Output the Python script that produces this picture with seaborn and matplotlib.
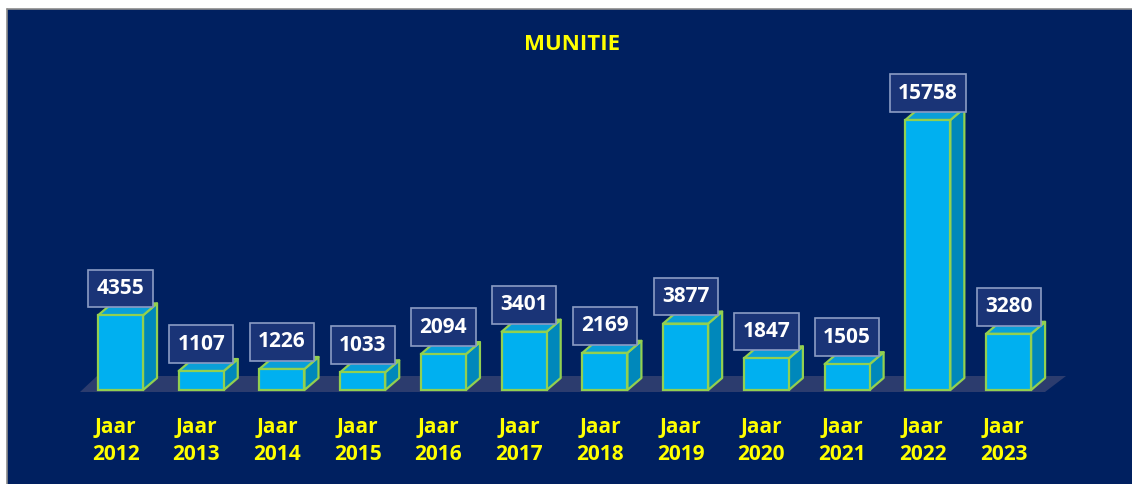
import matplotlib
matplotlib.use('Agg')
import matplotlib.pyplot as plt
import seaborn as sns
import pandas as pd
from matplotlib.patches import Polygon, Rectangle
from matplotlib.lines import Line2D

# ---- data ----
years = ['2012', '2013', '2014', '2015', '2016', '2017', '2018', '2019', '2020', '2021', '2022', '2023']
values = [4355, 1107, 1226, 1033, 2094, 3401, 2169, 3877, 1847, 1505, 15758, 3280]
prefix = 'Jaar'
title = 'MUNITIE'

# ---- style ----
NAVY = '#002060'
FRONT = '#00b0f0'
SIDE = '#0088bb'
TOP = '#0a9fd8'
EDGE = '#92d050'
YELLOW = '#ffff00'
FLOOR = '#2c3c6e'

sns.set_theme(style='white')
plt.rcParams['font.family'] = ['Open Sans', 'DejaVu Sans']

W, H = 1132, 484
fig = plt.figure(figsize=(W / 100, H / 100), dpi=100, facecolor='white')

def fx(px):
    return px / W

def fy(py):
    return 1 - py / H

fig.patches.append(Rectangle((fx(7), 0), 1 - fx(7), fy(9), transform=fig.transFigure,
                             facecolor=NAVY, edgecolor='none', zorder=0))
fig.add_artist(Line2D([fx(6.5), fx(6.5)], [0, fy(8.5)], color='#8c8c8c', lw=1.2))
fig.add_artist(Line2D([fx(6.5), 1], [fy(8.5), fy(8.5)], color='#8c8c8c', lw=1.2))

# floor
fig.patches.append(Polygon([(fx(80), fy(392)), (fx(1045), fy(392)), (fx(1066), fy(376)), (fx(97), fy(376))],
                           closed=True, transform=fig.transFigure, facecolor=FLOOR,
                           edgecolor='none', zorder=1))

ax = fig.add_axes([0, 0, 1, 1])
ax.patch.set_alpha(0)
ax.set_zorder(2)

df = pd.DataFrame({'year': years, 'value': values})
sns.barplot(data=df, x='year', y='value', order=years, color=FRONT, saturation=1,
            width=0.558, edgecolor=EDGE, linewidth=1.6, ax=ax)

XMIN, XMAX = -1.4926, 12.529
YMIN, YMAX = -5486, 22762
ax.set_xlim(XMIN, XMAX)
ax.set_ylim(YMIN, YMAX)
ax.axis('off')

px_per_x = W / (XMAX - XMIN)
px_per_y = H / (YMAX - YMIN)
dx = 14 / px_per_x
dy = 12 / px_per_y

for i, p in enumerate(ax.patches):
    x0 = p.get_x()
    w = p.get_width()
    h = p.get_height()
    x1 = x0 + w
    side = Polygon([(x1, 0), (x1 + dx, dy), (x1 + dx, h + dy), (x1, h)], closed=True,
                   facecolor=SIDE, edgecolor=EDGE, lw=1.6, joinstyle='round', zorder=3)
    top = Polygon([(x0, h), (x1, h), (x1 + dx, h + dy), (x0 + dx, h + dy)], closed=True,
                  facecolor=TOP, edgecolor=EDGE, lw=1.6, joinstyle='round', zorder=3)
    ax.add_patch(side)
    ax.add_patch(top)
    p.set_zorder(4)
    cx = x0 + w / 2
    ax.annotate(f'{values[i]}', xy=(cx, h), xytext=(0, 27), textcoords='offset pixels',
                ha='center', va='center', fontsize=15, fontweight='bold', color='white',
                bbox=dict(boxstyle='square,pad=0.4', facecolor='#1a3477', edgecolor='#8b9cc4', lw=1.2),
                zorder=6)
    ax.annotate(f'{prefix}\n{years[i]}', xy=(cx, 0), xytext=(-5, -51), textcoords='offset pixels',
                ha='center', va='center', fontsize=15, fontweight='bold', color=YELLOW,
                linespacing=1.42, zorder=6)

fig.text(fx(572), fy(45), title, ha='center', va='center', fontsize=16, fontweight='bold',
         color=YELLOW)

fig.savefig('out.png', dpi=100, facecolor='white')
